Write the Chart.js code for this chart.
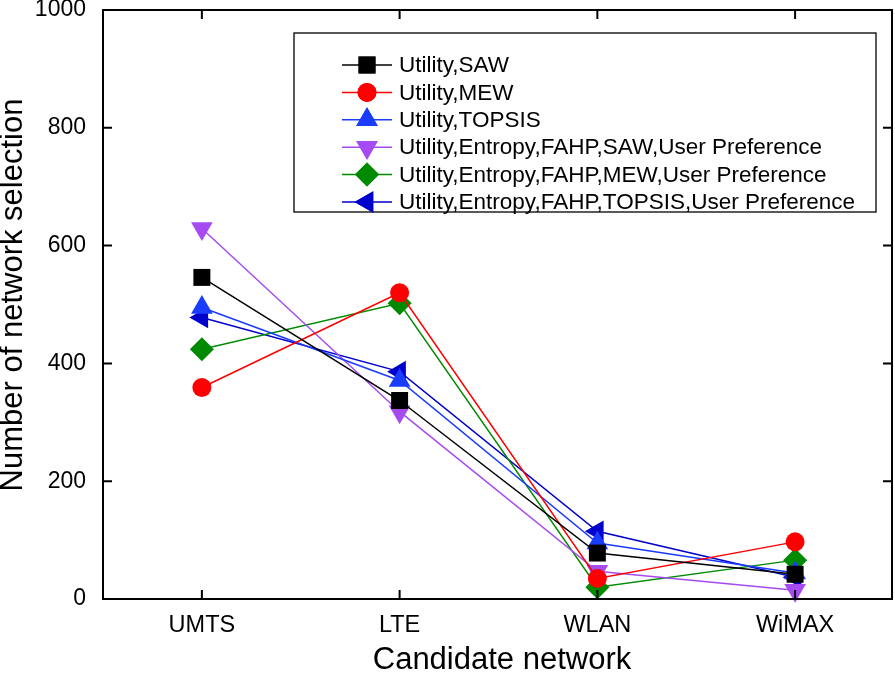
<!DOCTYPE html>
<html>
<head>
<meta charset="utf-8">
<script src="https://cdn.jsdelivr.net/npm/chart.js@4/dist/chart.umd.min.js"></script>
<style>
html,body{margin:0;padding:0;background:#fff;}
#wrap{width:895px;height:678px;position:relative;}
</style>
</head>
<body>
<div id="wrap"><canvas id="c" width="895" height="678"></canvas></div>
<script>
const categories = ["UMTS", "LTE", "WLAN", "WiMAX"];
const yTicks = [0, 200, 400, 600, 800, 1000];
const xTitle = "Candidate network";
const yTitle = "Number of network selection";
const seriesNames = [
  "Utility,SAW",
  "Utility,MEW",
  "Utility,TOPSIS",
  "Utility,Entropy,FAHP,SAW,User Preference",
  "Utility,Entropy,FAHP,MEW,User Preference",
  "Utility,Entropy,FAHP,TOPSIS,User Preference"
];
const sawValues = [546, 337, 78, 42];
const mewValues = [359, 520, 35, 97];
const topsisValues = [495, 371, 95, 44];
const upSawValues = [629, 318, 47, 15];
const upMewValues = [424, 502, 20, 66];
const upTopsisValues = [478, 386, 115, 37];

const colors = ["#000000", "#ff0000", "#1a3cff", "#a64bf2", "#008a00", "#0000cc"];
const styles = [
  {pointStyle: "rect", radius: 12, rotation: 0},
  {pointStyle: "circle", radius: 9.5, rotation: 0},
  {pointStyle: "triangle", radius: 12.5, rotation: 0},
  {pointStyle: "triangle", radius: 12.5, rotation: 180},
  {pointStyle: "rectRot", radius: 12, rotation: 0},
  {pointStyle: "triangle", radius: 12.5, rotation: 270}
];
const allValues = [sawValues, mewValues, topsisValues, upSawValues, upMewValues, upTopsisValues];

const datasets = allValues.map((vals, i) => ({
  label: seriesNames[i],
  data: vals.map((v, j) => ({x: j, y: v})),
  borderColor: colors[i],
  backgroundColor: colors[i],
  borderWidth: 1.5,
  pointStyle: styles[i].pointStyle,
  pointRadius: styles[i].radius,
  pointHoverRadius: styles[i].radius,
  pointRotation: styles[i].rotation,
  pointBorderWidth: 0,
  tension: 0,
  fill: false,
  clip: false
}));

const FONT = "'Liberation Sans', Arial, Helvetica, sans-serif";

const framePlugin = {
  id: 'frame',
  afterDraw(chart) {
    const ctx = chart.ctx;
    const a = chart.chartArea;
    const xs = chart.scales.x, ys = chart.scales.y;
    ctx.save();
    ctx.strokeStyle = '#000';
    ctx.lineWidth = 2;
    ctx.strokeRect(a.left, a.top, a.right - a.left, a.bottom - a.top);
    const tl = 9;
    ctx.beginPath();
    categories.forEach((c, i) => {
      const px = xs.getPixelForValue(i);
      ctx.moveTo(px, a.bottom); ctx.lineTo(px, a.bottom - tl);
      ctx.moveTo(px, a.top); ctx.lineTo(px, a.top + tl);
    });
    yTicks.forEach(v => {
      const py = ys.getPixelForValue(v);
      ctx.moveTo(a.left, py); ctx.lineTo(a.left + tl, py);
      ctx.moveTo(a.right, py); ctx.lineTo(a.right - tl, py);
    });
    ctx.stroke();

    // axis titles
    ctx.fillStyle = '#000';
    ctx.font = "31px " + FONT;
    ctx.textAlign = 'center';
    ctx.textBaseline = 'alphabetic';
    ctx.fillText(xTitle, 502, 669);
    ctx.save();
    ctx.translate(22, 295);
    ctx.rotate(-Math.PI / 2);
    ctx.fillText(yTitle, 0, 0);
    ctx.restore();

    // legend
    const lx = 294, ly = 33, lw = 582, lh = 179;
    ctx.lineWidth = 1.3;
    ctx.strokeRect(lx, ly, lw, lh);
    ctx.font = "22.5px " + FONT;
    ctx.textBaseline = 'middle';
    ctx.textAlign = 'left';
    chart.data.datasets.forEach((ds, i) => {
      const y = 65 + i * 27.4;
      ctx.strokeStyle = ds.borderColor;
      ctx.lineWidth = 1.5;
      ctx.beginPath();
      ctx.moveTo(342, y); ctx.lineTo(392, y);
      ctx.stroke();
      ctx.fillStyle = ds.backgroundColor;
      Chart.helpers.drawPoint(ctx, {
        pointStyle: ds.pointStyle,
        radius: ds.pointRadius,
        rotation: ds.pointRotation,
        borderWidth: 0
      }, 367, y);
      ctx.fill();
      ctx.fillStyle = '#000';
      ctx.fillText(ds.label, 399, y + 1);
    });
    ctx.restore();
  }
};

new Chart(document.getElementById('c'), {
  type: 'line',
  data: {datasets},
  options: {
    responsive: false,
    animation: false,
    events: [],
    layout: {autoPadding: false, padding: {left: 0, right: 3, top: 10, bottom: 0}},
    plugins: {legend: {display: false}, tooltip: {enabled: false}},
    scales: {
      x: {
        type: 'linear',
        min: -0.5,
        max: 3.49,
        afterBuildTicks(scale) { scale.ticks = categories.map((c, i) => ({value: i})); },
        afterFit(scale) { scale.height = 79; scale.paddingLeft = 0; scale.paddingRight = 0; },
        grid: {drawOnChartArea: false, drawTicks: false},
        border: {display: true, color: '#000', width: 2},
        ticks: {
          color: '#000',
          font: {size: 23.5, family: FONT},
          padding: 12,
          maxRotation: 0,
          autoSkip: false,
          callback: (v) => categories[v]
        },
        title: {display: false}
      },
      y: {
        min: 0,
        max: 1000,
        afterBuildTicks(scale) { scale.ticks = yTicks.map(v => ({value: v})); },
        afterFit(scale) { scale.width = 103; scale.paddingTop = 0; scale.paddingBottom = 0; },
        grid: {drawOnChartArea: false, drawTicks: false},
        border: {display: true, color: '#000', width: 2},
        ticks: {color: '#000', font: {size: 23, family: FONT}, padding: 17, callback: (v) => String(v)},
        title: {display: false}
      }
    }
  },
  plugins: [framePlugin]
});
</script>
</body>
</html>
